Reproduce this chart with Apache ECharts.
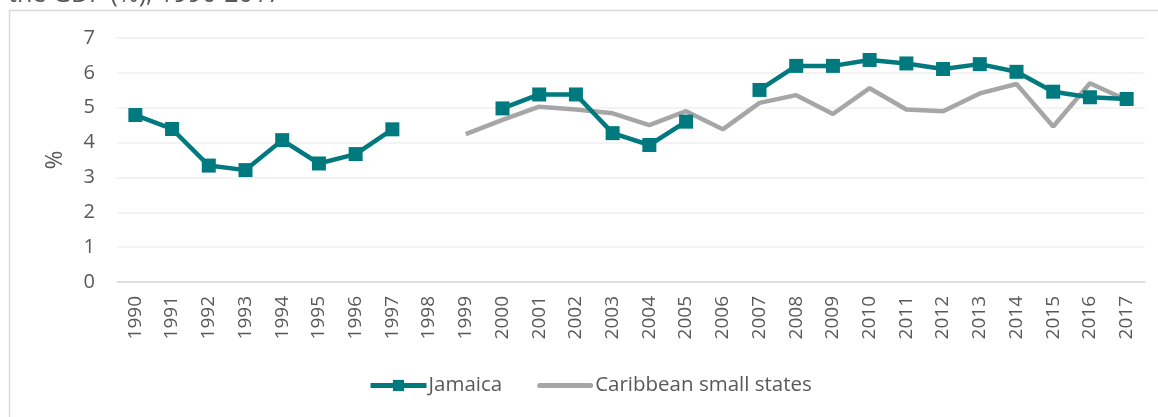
<!DOCTYPE html>
<html>
<head>
<meta charset="utf-8">
<style>
  html, body { margin: 0; padding: 0; background: #ffffff; }
  #chart { width: 1158px; height: 417px; }
</style>
<script src="https://cdn.jsdelivr.net/npm/echarts@6/dist/echarts.min.js"></script>
</head>
<body>
<div id="chart"></div>
<script>
// Years on the horizontal axis
const years = ['1990','1991','1992','1993','1994','1995','1996','1997','1998','1999',
  '2000','2001','2002','2003','2004','2005','2006','2007','2008','2009',
  '2010','2011','2012','2013','2014','2015','2016','2017'];

// Jamaica, % of GDP (gaps where no value is reported)
const jamaica = [4.79, 4.39, 3.34, 3.21, 4.07, 3.40, 3.67, 4.38, null, null,
  4.98, 5.38, 5.38, 4.27, 3.93, 4.60, null, 5.51, 6.20, 6.20,
  6.37, 6.27, 6.11, 6.25, 6.03, 5.46, 5.30, 5.25];

// Caribbean small states, % of GDP
const caribbean = [null, null, null, null, null, null, null, null, null, 4.24,
  4.65, 5.03, 4.95, 4.84, 4.50, 4.90, 4.38, 5.14, 5.36, 4.82,
  5.56, 4.95, 4.90, 5.41, 5.68, 4.46, 5.70, 5.22];

const yTicks = [0, 1, 2, 3, 4, 5, 6, 7];

const FONT = '"Open Sans", "Noto Sans", sans-serif';
const TEXT = '#595959';
const TEAL = '#007A7E';
const GREY = '#A6A6A6';

const chart = echarts.init(document.getElementById('chart'), null, { renderer: 'canvas' });

chart.setOption({
  animation: false,
  backgroundColor: '#ffffff',
  textStyle: { fontFamily: FONT, color: TEXT },
  graphic: [
    {
      type: 'rect',
      shape: { x: 9.5, y: 10.5, width: 1200, height: 500 },
      style: { fill: 'none', stroke: '#d9d9d9', lineWidth: 1.5 },
      silent: true
    },
    {
      type: 'text',
      left: 8,
      top: -18,
      style: { text: 'the GDP (%), 1990-2017', font: '25px ' + FONT, fill: TEXT },
      silent: true
    }
  ],
  grid: { left: 117, right: 13, top: 38, bottom: 135, containLabel: false },
  legend: {
    bottom: 16,
    left: 363,
    itemWidth: 56,
    itemHeight: 14,
    itemGap: 35,
    textStyle: { fontFamily: FONT, fontSize: 20.5, color: TEXT, padding: [0, 0, 0, -3] },
    data: [
      { name: 'Jamaica', lineStyle: { width: 5 } },
      { name: 'Caribbean small states', icon: 'path://M2.5,0L53.5,0A2.5,2.5,0,0,1,53.5,5L2.5,5A2.5,2.5,0,0,1,2.5,0Z' }
    ]
  },
  xAxis: {
    type: 'category',
    data: years,
    boundaryGap: true,
    axisLine: { lineStyle: { color: '#d9d9d9', width: 1.5 } },
    axisTick: { show: false },
    axisLabel: { rotate: 90, fontSize: 19, color: TEXT, margin: 14, fontFamily: FONT, interval: 0 }
  },
  yAxis: {
    type: 'value',
    min: 0,
    max: 7,
    interval: 1,
    name: '%',
    nameLocation: 'middle',
    nameRotate: 90,
    nameGap: 50,
    nameTextStyle: { fontSize: 23, color: TEXT, fontFamily: FONT },
    axisLine: { show: false },
    axisTick: { show: false },
    axisLabel: {
      fontSize: 20, color: TEXT, margin: 22, fontFamily: FONT,
      formatter: v => yTicks.includes(v) ? String(v) : ''
    },
    splitLine: { lineStyle: { color: '#efefef', width: 1.5 } }
  },
  series: [
    {
      name: 'Jamaica',
      type: 'line',
      data: jamaica,
      connectNulls: false,
      symbol: 'rect',
      symbolSize: 14,
      lineStyle: { color: TEAL, width: 4.5 },
      itemStyle: { color: TEAL },
      z: 3
    },
    {
      name: 'Caribbean small states',
      type: 'line',
      data: caribbean,
      connectNulls: false,
      symbol: 'none',
      lineStyle: { color: GREY, width: 4.5 },
      itemStyle: { color: GREY },
      z: 2
    }
  ]
});
</script>
</body>
</html>
